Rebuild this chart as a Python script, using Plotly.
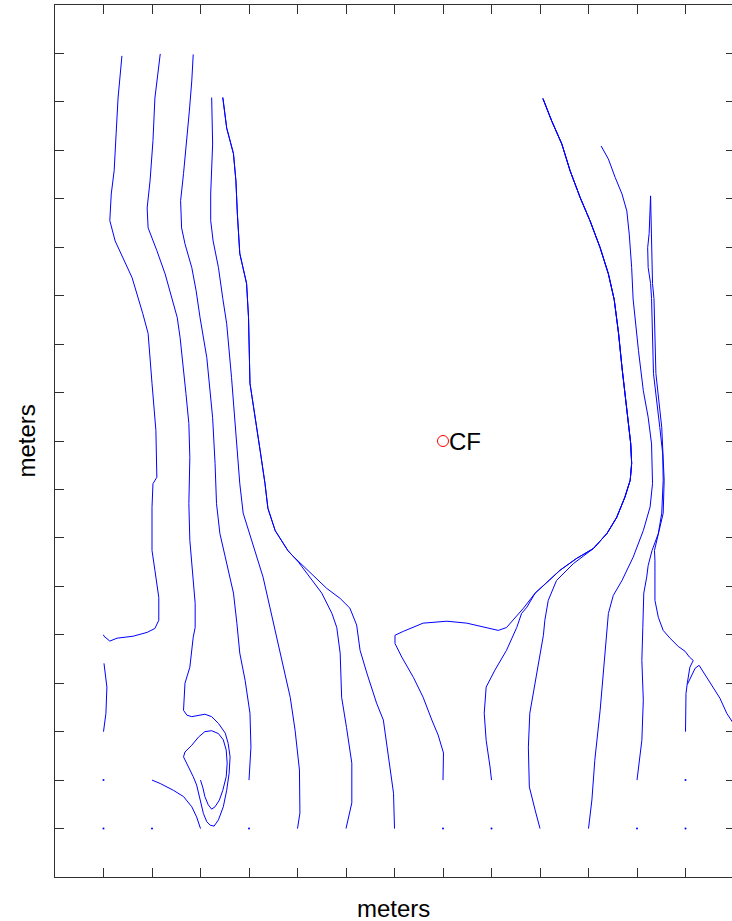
import plotly.graph_objects as go

# ---- streamline data (meters) ----
# far-left streamline, ending at seed (1, 5)
a_x = [1.38, 1.30, 1.26, 1.22, 1.16, 1.13, 1.24, 1.40, 1.59, 1.81, 1.92, 2.00, 2.08, 2.10,
       2.02, 2.00, 2.00, 2.06, 2.14, 2.14, 2.06, 1.90, 1.61, 1.28, 1.13, 1.01, 1.00]
a_y = [16.95, 16.08, 15.34, 14.58, 14.10, 13.55, 13.13, 12.78, 12.37, 11.63, 11.22, 10.19, 9.22, 8.25,
       8.12, 7.63, 6.74, 6.33, 5.77, 5.30, 5.13, 5.05, 4.97, 4.93, 4.87, 4.97, 5.00]

# short streamline from seed (1, 3)
a2_x = [1.01, 1.07, 1.05, 1.00]
a2_y = [4.41, 3.92, 3.38, 3.00]

# second streamline: spirals around the eddy and ends at seed (3, 2)
b_x = [2.17, 2.06, 2.02, 1.96, 1.90, 1.92, 2.10, 2.27, 2.52, 2.58, 2.70, 2.76, 2.78, 2.76,
       2.78, 2.85, 2.89, 2.89, 2.85, 2.78, 2.68, 2.65, 2.72, 2.82, 2.96, 3.09, 3.23, 3.37,
       3.51, 3.57, 3.61, 3.59, 3.54, 3.47, 3.37, 3.28, 3.20, 3.13, 3.06, 2.99, 2.92, 2.85,
       2.75, 2.65, 2.68, 2.82, 2.96, 3.09, 3.23, 3.37, 3.47, 3.53, 3.55, 3.53, 3.46, 3.39,
       3.30, 3.23, 3.16, 3.09, 3.05, 3.00]
b_y = [16.99, 16.08, 15.20, 14.37, 13.81, 13.40, 12.93, 12.45, 11.55, 11.13, 9.98, 9.36, 8.66, 7.71,
       6.95, 6.12, 5.65, 5.15, 4.95, 4.33, 4.00, 3.44, 3.34, 3.31, 3.34, 3.36, 3.31, 3.17,
       2.97, 2.76, 2.48, 2.14, 1.79, 1.45, 1.18, 1.05, 1.07, 1.14, 1.31, 1.59, 1.90, 2.07,
       2.27, 2.48, 2.58, 2.72, 2.89, 3.00, 3.02, 2.96, 2.83, 2.62, 2.35, 2.07, 1.79, 1.59,
       1.45, 1.40, 1.49, 1.66, 1.84, 2.00]

# streamline from seed (2, 2) to (3, 1)
b2_x = [2.00, 2.17, 2.44, 2.65, 2.82, 2.92, 3.00]
b2_y = [2.00, 1.93, 1.79, 1.66, 1.45, 1.24, 1.00]

# third streamline, ending at seed (4, 2)
c_x = [2.85, 2.82, 2.77, 2.72, 2.65, 2.59, 2.61, 2.68, 2.82, 2.91, 2.99, 3.13, 3.25, 3.30,
       3.33, 3.40, 3.54, 3.68, 3.75, 3.81, 3.92, 4.02, 4.04, 4.00]
c_y = [16.98, 16.43, 15.81, 15.20, 14.52, 13.96, 13.40, 13.07, 12.58, 12.10, 11.55, 10.72, 9.48, 8.54,
       7.71, 7.09, 6.47, 5.86, 5.24, 4.62, 4.06, 3.38, 2.68, 2.00]

# fourth streamline, ending at seed (5, 1)
d_x = [3.23, 3.25, 3.21, 3.21, 3.26, 3.37, 3.46, 3.54, 3.64, 3.71, 3.81, 3.88, 4.09, 4.29,
       4.43, 4.57, 4.71, 4.85, 4.95, 5.04, 5.05, 5.00]
d_y = [16.09, 15.13, 14.10, 13.55, 13.13, 12.58, 11.94, 11.42, 10.31, 9.36, 8.12, 7.51, 6.85, 6.19,
       5.57, 4.95, 4.33, 3.71, 3.03, 2.21, 1.32, 1.00]

# pair of streamlines hugging the left side of the clear zone
e_top_x = [3.46, 3.54, 3.68, 3.73, 3.76, 3.81, 3.95, 3.99, 4.02, 4.12, 4.23, 4.33, 4.39, 4.54, 4.80]
e_top_y = [16.09, 15.46, 14.93, 14.37, 13.69, 12.87, 12.25, 11.55, 10.19, 9.48, 8.80, 8.12, 7.61, 7.15, 6.74]
e1_x = e_top_x + [5.02, 5.26, 5.50, 5.71, 5.81, 5.88, 5.91, 6.01, 6.12, 6.12, 6.00]
e1_y = e_top_y + [6.50, 6.17, 5.86, 5.44, 5.15, 4.62, 3.71, 3.09, 2.35, 1.53, 1.00]
e2_x = e_top_x + [4.89, 5.26, 5.60, 5.88, 6.08, 6.22, 6.29, 6.43, 6.63, 6.77, 6.87, 6.98, 7.00]
e2_y = e_top_y + [6.64, 6.29, 5.96, 5.75, 5.55, 5.20, 4.68, 4.21, 3.59, 3.24, 2.56, 1.73, 1.00]

# bundle of streamlines forming the right side of the clear zone
f_top_x = [10.06, 10.24, 10.45, 10.62, 10.83, 11.03, 11.24, 11.41, 11.53, 11.62, 11.69, 11.79,
           11.87, 11.89, 11.86, 11.75, 11.58, 11.38, 11.10]
f_top_y = [16.07, 15.61, 15.13, 14.58, 14.02, 13.55, 12.99, 12.45, 11.92, 11.22, 10.52, 9.63,
           8.95, 8.54, 8.19, 7.84, 7.42, 7.09, 6.78]
f1_x = f_top_x + [10.76, 10.41, 10.14, 9.90, 9.66, 9.45, 9.31, 9.14, 8.90, 8.49, 8.08, 7.59,
                  7.18, 7.01, 7.01, 7.15, 7.39, 7.59, 7.77, 7.90, 8.01, 8.00]
f1_y = f_top_y + [6.58, 6.33, 6.08, 5.86, 5.55, 5.30, 5.15, 5.09, 5.15, 5.24, 5.28, 5.24,
                  5.07, 4.99, 4.82, 4.54, 4.12, 3.71, 3.24, 2.93, 2.56, 2.00]
f2_x = f_top_x + [10.76, 10.41, 10.14, 9.90, 9.73, 9.62, 9.52, 9.31, 9.07, 8.89, 8.85, 8.89, 8.97, 9.00]
f2_y = f_top_y + [6.58, 6.33, 6.08, 5.86, 5.57, 5.44, 5.15, 4.68, 4.27, 3.92, 3.38, 2.82, 2.27, 2.00]
f3_x = f_top_x + [10.69, 10.34, 10.17, 10.10, 10.07, 9.97, 9.86, 9.79, 9.76, 9.78, 9.90, 10.00]
f3_y = f_top_y + [6.47, 6.12, 5.71, 5.30, 4.99, 4.41, 3.86, 3.38, 2.68, 1.86, 1.38, 1.00]

# streamline ending at seed (11, 1)
g_x = [11.26, 11.41, 11.55, 11.69, 11.79, 11.84, 11.89, 11.92, 12.03, 12.13, 12.23, 12.30,
       12.32, 12.27, 12.13, 11.92, 11.69, 11.51, 11.41, 11.36, 11.31, 11.24, 11.13, 11.07, 11.00]
g_y = [15.09, 14.82, 14.44, 14.10, 13.75, 13.27, 12.58, 11.93, 10.87, 10.04, 9.49, 8.94,
       8.12, 7.64, 7.15, 6.60, 6.12, 5.81, 5.44, 4.82, 4.27, 3.44, 2.41, 1.59, 1.00]

# two nearly coincident streamlines ending at seeds (12, 2) and (13, 3)
h1_x = [12.28, 12.25, 12.22, 12.23, 12.28, 12.30, 12.34, 12.41, 12.47, 12.53, 12.54, 12.51,
        12.44, 12.31, 12.23, 12.20, 12.14, 12.12, 12.10, 12.13, 12.10, 12.00]
h1_y = [14.06, 13.28, 12.99, 12.58, 12.25, 11.94, 10.39, 9.84, 9.28, 8.74, 8.19, 7.51,
        7.09, 6.74, 6.43, 6.19, 5.86, 5.15, 4.47, 3.65, 2.82, 2.00]
h2_x = [12.28, 12.30, 12.32, 12.35, 12.39, 12.51, 12.56, 12.54, 12.43, 12.36, 12.37, 12.37,
        12.44, 12.54, 12.68, 12.85, 12.99, 13.08, 13.16, 13.09, 13.04, 13.01, 13.00]
h2_y = [14.06, 13.28, 12.25, 11.94, 10.39, 9.28, 8.19, 7.51, 7.05, 6.74, 6.54, 5.71,
        5.36, 5.09, 4.93, 4.76, 4.66, 4.54, 4.47, 4.33, 4.02, 3.79, 3.00]

# short streamline entering from the right edge
k_x = [14.00, 13.85, 13.71, 13.57, 13.40, 13.28, 13.20, 13.09, 13.04]
k_y = [3.15, 3.38, 3.69, 3.92, 4.19, 4.37, 4.31, 4.10, 3.98]

# seeds whose streamlines have no length
seed_x = [1, 1, 2, 4, 8, 9, 12, 13, 13]
seed_y = [1, 2, 1, 1, 1, 1, 1, 1, 2]

# marked point
cf_x = [8]
cf_y = [9]
cf_label = "CF"

x_ticks = list(range(1, 14))
y_ticks = list(range(1, 18))
axis_title = "meters"

streamlines = [
    (a_x, a_y), (a2_x, a2_y), (b_x, b_y), (b2_x, b2_y), (c_x, c_y), (d_x, d_y),
    (e1_x, e1_y), (e2_x, e2_y), (f1_x, f1_y), (f2_x, f2_y), (f3_x, f3_y),
    (g_x, g_y), (h1_x, h1_y), (h2_x, h2_y), (k_x, k_y),
]

LINE_BLUE = "rgb(0,0,255)"
AXIS_COLOR = "#303030"
FONT = "Liberation Sans, Arial, sans-serif"

fig = go.Figure()
for sx, sy in streamlines:
    fig.add_trace(go.Scatter(x=sx, y=sy, mode="lines",
                             line=dict(color=LINE_BLUE, width=1),
                             hoverinfo="skip", showlegend=False))

fig.add_trace(go.Scatter(x=seed_x, y=seed_y, mode="markers",
                         marker=dict(color=LINE_BLUE, size=2),
                         hoverinfo="skip", showlegend=False))

fig.add_trace(go.Scatter(x=cf_x, y=cf_y, mode="markers",
                         marker=dict(symbol="circle-open", color="red", size=11,
                                     line=dict(width=1, color="red")),
                         hoverinfo="skip", showlegend=False))

# invisible trace so the right-hand tick axis is drawn
fig.add_trace(go.Scatter(x=[cf_x[0]], y=[cf_y[0]], yaxis="y2", mode="markers",
                         marker=dict(opacity=0), hoverinfo="skip", showlegend=False))

fig.add_annotation(x=cf_x[0], y=cf_y[0], text=cf_label, showarrow=False,
                   xanchor="left", yanchor="middle", xshift=4,
                   font=dict(family=FONT, size=24, color="black"))

W, H = 732, 921
ML, MR, MT, MB = 55, 0, 5, 44
x_units_per_px = 1 / 48.5
x_max = (W - ML - MR) * x_units_per_px

fig.update_layout(
    width=W, height=H,
    margin=dict(l=ML, r=MR, t=MT, b=MB),
    paper_bgcolor="white", plot_bgcolor="white",
    xaxis=dict(range=[0, x_max], tickvals=x_ticks, ticks="inside", ticklen=9,
               tickcolor=AXIS_COLOR, tickwidth=1, showticklabels=False,
               showline=True, linecolor=AXIS_COLOR, linewidth=1, mirror="ticks",
               showgrid=False, zeroline=False, fixedrange=True),
    yaxis=dict(range=[0, 18], tickvals=y_ticks, ticks="inside", ticklen=9,
               tickcolor=AXIS_COLOR, tickwidth=1, showticklabels=False,
               showline=True, linecolor=AXIS_COLOR, linewidth=1,
               showgrid=False, zeroline=False, fixedrange=True),
    yaxis2=dict(range=[0, 18], tickvals=y_ticks, ticks="inside", ticklen=6,
                tickcolor=AXIS_COLOR, tickwidth=1, showticklabels=False,
                overlaying="y", side="right", showline=False,
                showgrid=False, zeroline=False, fixedrange=True),
    annotations=list(fig.layout.annotations) + [
        dict(text=axis_title, xref="paper", yref="paper", x=0.5, y=0,
             xanchor="center", yanchor="top", yshift=-16, showarrow=False,
             font=dict(family=FONT, size=24, color="black")),
        dict(text=axis_title, xref="paper", yref="paper", x=0, y=0.5,
             xanchor="right", yanchor="middle", xshift=-14, textangle=-90,
             showarrow=False, font=dict(family=FONT, size=24, color="black")),
    ],
)

fig.write_html("out.html", config={"displayModeBar": False})
